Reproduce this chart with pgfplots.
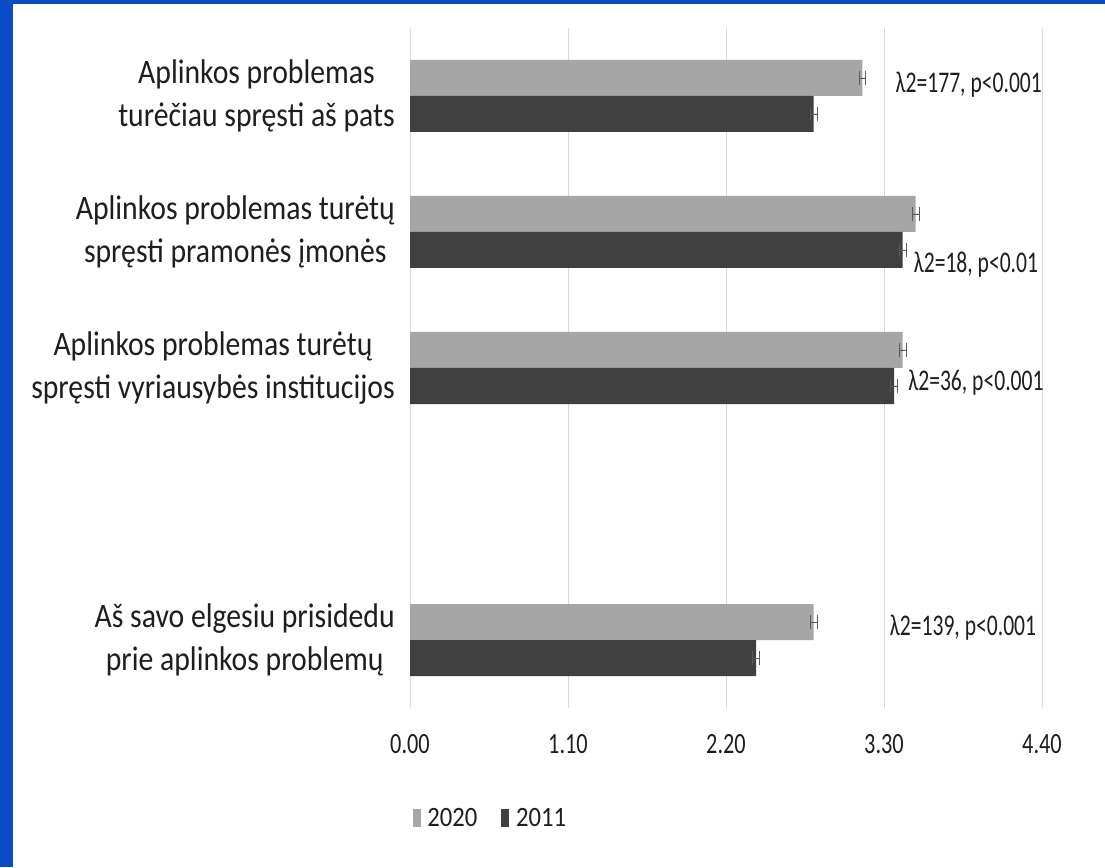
\documentclass[border=0pt]{standalone}
\usepackage{fontspec}
\setmainfont{Carlito}[FakeStretch=0.867]
\newfontfamily\tickfont{Carlito}[FakeStretch=0.76]
\newfontfamily\annfont{Carlito}[FakeStretch=0.72]
\newfontfamily\legfont{Carlito}[FakeStretch=0.88]
\usepackage{pgfplots}
\pgfplotsset{compat=1.18}
\definecolor{frameblue}{RGB}{10,75,200}
\definecolor{cA}{HTML}{A6A6A6}
\definecolor{cB}{HTML}{404040}
\definecolor{gridc}{HTML}{D9D9D9}
\definecolor{txt}{HTML}{1E1E1E}
\definecolor{errc}{HTML}{595959}
\begin{document}
\begin{tikzpicture}
\useasboundingbox (0,0) rectangle (828.75pt,650.25pt);
\fill[white] (0,0) rectangle (828.75pt,650.25pt);
\fill[frameblue] (0,0) rectangle (9.75pt,650.25pt);
\fill[frameblue] (0,647.25pt) rectangle (828.75pt,650.25pt);
\begin{axis}[
  at={(307.5pt,119.25pt)}, anchor=south west,
  scale only axis, width=474pt, height=510pt,
  xbar, bar width=27pt,
  xmin=0, xmax=4.4, ymin=-0.5, ymax=4.5,
  xtick={0,1.1,2.2,3.3,4.4},
  xmajorgrids, major grid style={gridc, line width=0.75pt},
  axis line style={draw=none}, tick style={draw=none},
  major tick length=0pt,
  xticklabel style={/pgf/number format/.cd, fixed, fixed zerofill, precision=2, assume math mode=true, /tikz/.cd,
    font=\tickfont\fontsize{22pt}{24pt}\selectfont, text=txt, anchor=base, yshift=-34pt},
  ytick={0,2,3,4},
  yticklabels={{Aš savo elgesiu prisidedu\\prie aplinkos problemų},
               {Aplinkos problemas turėtų\\spręsti vyriausybės institucijos},
               {Aplinkos problemas turėtų\\spręsti pramonės įmonės},
               {Aplinkos problemas\\turėčiau spręsti aš pats}},
  yticklabel style={align=center, inner sep=0pt, anchor=east, xshift=-11.25pt,
    font=\fontsize{25.7pt}{32pt}\selectfont, text=txt},
  legend style={at={(rel axis cs:0.004,-0.162)}, anchor=west, draw=none, fill=none,
    inner sep=0pt, legend columns=2, font=\legfont\fontsize{21pt}{23pt}\selectfont, text=txt,
    /tikz/every odd column/.append style={column sep=3pt},
    /tikz/every even column/.append style={column sep=16pt}},
  legend image code/.code={\fill[#1, draw=none] (0pt,-6.5pt) rectangle (6pt,6.5pt);},
  error bars/error mark=|,
  error bars/error bar style={color=errc, line width=0.7pt},
  error bars/error mark options={errc, line width=0.7pt, mark size=5.5pt},
]
\addplot[fill=cA, draw=none, bar shift=13.5pt,
  error bars/.cd, x dir=both, x explicit]
  coordinates {(3.15,4) +- (0.024,0) (3.52,3) +- (0.024,0) (3.43,2) +- (0.024,0) (2.81,0) +- (0.024,0)};
\addlegendentry{2020}
\addplot[fill=cB, draw=none, bar shift=-13.5pt,
  error bars/.cd, x dir=both, x explicit]
  coordinates {(2.81,4) +- (0.024,0) (3.43,3) +- (0.024,0) (3.37,2) +- (0.024,0) (2.41,0) +- (0.024,0)};
\addlegendentry{2011}
\node[font=\annfont\fontsize{22.5pt}{24pt}\selectfont, text=txt] at (axis cs:3.89,4.08) {λ2=177, p<0.001};
\node[font=\annfont\fontsize{22.5pt}{24pt}\selectfont, text=txt] at (axis cs:3.94,2.76) {λ2=18, p<0.01};
\node[font=\annfont\fontsize{22.5pt}{24pt}\selectfont, text=txt] at (axis cs:3.94,1.89) {λ2=36, p<0.001};
\node[font=\annfont\fontsize{22.5pt}{24pt}\selectfont, text=txt] at (axis cs:3.85,0.09) {λ2=139, p<0.001};
\end{axis}
\end{tikzpicture}
\end{document}
